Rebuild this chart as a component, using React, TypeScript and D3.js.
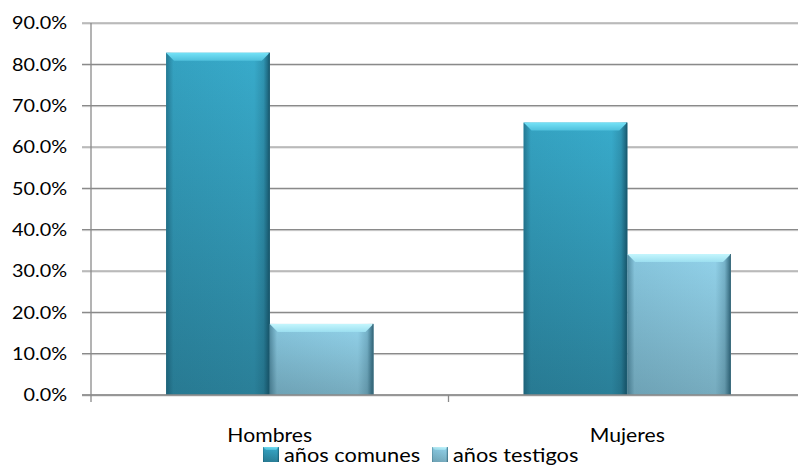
import React from "react";
import * as d3 from "d3";

const categories = ["Hombres", "Mujeres"];
const seriesNames = ["años comunes", "años testigos"];
const comunes = [0.828, 0.659];
const testigos = [0.172, 0.341];
const yTicks = [0, 0.1, 0.2, 0.3, 0.4, 0.5, 0.6, 0.7, 0.8, 0.9];

const W = 798;
const H = 465;
const FONT = "Lato, 'Open Sans', sans-serif";

function T(props: { x: number; y: number; sx: number; anchor?: string; size: number; dy?: string; children: React.ReactNode }) {
  return (
    <text
      transform={`translate(${props.x},${props.y}) scale(${props.sx},1)`}
      textAnchor={props.anchor ?? "start"}
      fontSize={props.size}
      dy={props.dy}
      fill="#000"
    >
      {props.children}
    </text>
  );
}

export default function App() {
  const x0 = d3.scaleBand<string>().domain(categories).range([91, 806]).paddingInner(0.42).paddingOuter(0.21);
  const x1 = d3.scaleBand<string>().domain(seriesNames).range([0, x0.bandwidth()]).padding(0);
  const y = d3.scaleLinear().domain([0, 0.9]).range([395, 23]);
  const fmt = d3.format(".1%");
  const series = [comunes, testigos];
  const pal = [
    { top: "#38abcb", bot: "#2a7f98", bevT: "#74e2f7", bevB: "#4fc0dc", edge: "#1d5c72" },
    { top: "#92d2ea", bot: "#76abbe", bevT: "#c4f6fd", bevB: "#9cdff0", edge: "#3f6f80" },
  ];
  const bev = 8;

  return (
    <svg width={W} height={H} style={{ position: "absolute", left: 0, top: 0, background: "#fff" }} fontFamily={FONT}>
      <defs>
        {pal.map((p, i) => (
          <React.Fragment key={i}>
            <linearGradient id={`body${i}`} x1="0" y1="0" x2="0" y2="1">
              <stop offset="0" stopColor={p.top} />
              <stop offset="1" stopColor={p.bot} />
            </linearGradient>
            <linearGradient id={`bev${i}`} x1="0" y1="0" x2="0" y2="1">
              <stop offset="0" stopColor={p.bevT} />
              <stop offset="1" stopColor={p.bevB} />
            </linearGradient>
          </React.Fragment>
        ))}
        <linearGradient id="sides" x1="0" y1="0" x2="1" y2="0">
          <stop offset="0" stopColor="#0d3d50" stopOpacity="0.45" />
          <stop offset="0.07" stopColor="#0d3d50" stopOpacity="0.08" />
          <stop offset="0.85" stopColor="#0d3d50" stopOpacity="0.0" />
          <stop offset="0.94" stopColor="#0d3d50" stopOpacity="0.2" />
          <stop offset="0.985" stopColor="#0d3d50" stopOpacity="0.6" />
          <stop offset="1" stopColor="#0d3d50" stopOpacity="0.75" />
        </linearGradient>
      </defs>

      {/* gridlines */}
      {yTicks.map((t) => (
        <g key={t}>
          <line x1={82} x2={W} y1={y(t) + 1} y2={y(t) + 1} stroke="#d4d4d4" strokeWidth={1} />
          <line x1={82} x2={W} y1={y(t)} y2={y(t)} stroke="#8a8a8a" strokeWidth={1.2} />
          <T x={67} y={y(t)} dy="0.36em" anchor="end" size={18} sx={1.1}>
            {fmt(t)}
          </T>
        </g>
      ))}

      {/* bars */}
      {categories.map((c, ci) =>
        series.map((s, si) => {
          const bx = (x0(c) ?? 0) + (x1(seriesNames[si]) ?? 0);
          const bw = x1.bandwidth();
          const by = y(s[ci]);
          const bh = y(0) - by;
          const p = pal[si];
          return (
            <g key={`${c}-${si}`}>
              <rect x={bx} y={by} width={bw} height={bh} fill={`url(#body${si})`} />
              <rect x={bx} y={by} width={bw} height={bh} fill="url(#sides)" />
              <polygon
                points={`${bx},${by} ${bx + bw},${by} ${bx + bw - bev},${by + bev} ${bx + bev},${by + bev}`}
                fill={`url(#bev${si})`}
              />
              <line x1={bx + bw - 0.5} x2={bx + bw - 0.5} y1={by} y2={by + bh} stroke={p.edge} strokeWidth={1} />
            </g>
          );
        })
      )}

      {/* axes */}
      <line x1={91} x2={91} y1={23} y2={402} stroke="#8a8a8a" strokeWidth={1.3} />
      <line x1={82} x2={W} y1={395} y2={395} stroke="#8a8a8a" strokeWidth={1.5} />
      {categories.slice(1).map((c) => {
        const xt = (x0(c) ?? 0) - (x0.step() - x0.bandwidth()) / 2;
        return <line key={c} x1={xt} x2={xt} y1={395} y2={402} stroke="#8a8a8a" strokeWidth={1.3} />;
      })}

      {/* category labels */}
      {categories.map((c) => (
        <T key={c} x={(x0(c) ?? 0) + x0.bandwidth() / 2} y={442} anchor="middle" size={20} sx={1.06}>
          {c}
        </T>
      ))}

      {/* legend */}
      {seriesNames.map((n, i) => {
        const lx = [263, 432][i];
        return (
          <g key={n}>
            <rect x={lx} y={447} width={16} height={15} fill={`url(#body${i})`} />
            <polygon points={`${lx},447 ${lx + 16},447 ${lx + 13},450 ${lx + 3},450`} fill={`url(#bev${i})`} />
            <rect x={lx} y={447} width={16} height={15} fill="url(#sides)" />
            <T x={lx + 21} y={461.5} size={20} sx={1.09}>
              {n}
            </T>
          </g>
        );
      })}
    </svg>
  );
}
